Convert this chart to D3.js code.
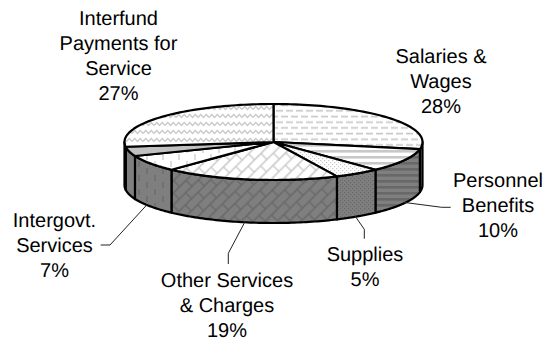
<!DOCTYPE html>
<html><head><meta charset="utf-8">
<script src="https://cdn.jsdelivr.net/npm/d3@7"></script>
<style>html,body{margin:0;background:#fff}svg{display:block}text{font-family:"Liberation Sans",Arial,sans-serif;font-size:20px;fill:#000;text-anchor:middle;text-rendering:geometricPrecision}</style>
</head><body><svg id="c" width="546" height="341"></svg>
<script>
const categories=["Salaries & Wages","Personnel Benefits","Supplies","Other Services & Charges","Intergovt. Services","Unlabeled","Interfund Payments for Service"];
const shares=[28,10,5,19,7,4,27];
const patterns=["dash","hstripe","dots","brick","vdash","solid","wave"];
const labelLines=[["Salaries &","Wages","28%"],["Personnel","Benefits","10%"],["Supplies","5%"],["Other Services","& Charges","19%"],["Intergovt.","Services","7%"],[],["Interfund","Payments for","Service","27%"]];
const labelAnchors=[[441,63],[498,187],[365,261],[227,286.5],[54.5,227],null,[118.5,25]];
const leaders=[null,[[403.3,202.3],[441.7,207.3],[450.7,207.3]],[[355,216],[364.3,229.3],[364.3,238.7]],[[245,221.7],[228.3,253.3],[228.3,264]],[[146.7,205],[110,245],[100.7,245]],null,null];

const svg=d3.select("#c"),defs=svg.append("defs");
const cx=273.5,cy=142,rx=149,ry=38,depth=43;
const x=d3.scaleLinear().domain([-1,1]).range([cx-rx,cx+rx]);
const y=d3.scaleLinear().domain([-1,1]).range([cy-ry,cy+ry]);
const pie=d3.pie().sort(null).value(d=>d)(shares);
const line=d3.line();
const pt=a=>[x(Math.sin(a)),y(-Math.cos(a))];
const arcPts=(a,b)=>d3.range(0,61).map(i=>pt(a+(b-a)*i/60));

function mk(id,w,h,bg,draw,tf){const p=defs.append("pattern").attr("id",id).attr("patternUnits","userSpaceOnUse").attr("width",w).attr("height",h);
 if(tf)p.attr("patternTransform",tf);
 p.append("rect").attr("width",w).attr("height",h).attr("fill",bg);draw(p);}
const s=(p,d,c,sw)=>p.append("path").attr("d",d).attr("fill","none").attr("stroke",c).attr("stroke-width",sw);
function build(pre,bg,fg){
 mk(pre+"dash",20,11.4,bg,p=>{s(p,"M1 2.5H8M11 2.5H18",fg,1.5);s(p,"M-4 8.2H3M6 8.2H13M16 8.2H23",fg,1.5);});
 mk(pre+"hstripe",4,6,bg,p=>{p.append("rect").attr("width",4).attr("height",2.6).attr("fill",fg);});
 mk(pre+"dots",4,4,bg,p=>{[[0,0],[2,2]].forEach(([a,b])=>p.append("rect").attr("x",a).attr("y",b).attr("width",1.2).attr("height",1.2).attr("fill",fg));});
 mk(pre+"brick",18,17,bg,p=>{s(p,"M0 4H18M0 12.5H18M4 4V12.5M13 -4.5V4M13 12.5V21",fg,1.3);},"rotate(-45)");
 mk(pre+"vdash",16,14,bg,p=>{s(p,"M3 0V6",fg,1.2);s(p,"M11 7V13",fg,1.2);});
 mk(pre+"wave",11,8,bg,p=>{s(p,"M0 5.5L2.75 2.5L5.5 5.5L8.25 2.5L11 5.5",fg,1.2);});
}
build("t","#fff","#c8c8c8");
build("f","#7f7f7f","#686868");
const fillTop=p=>p==="solid"?"#c0c0c0":`url(#t${p})`;
const fillSide=p=>p==="solid"?"#7f7f7f":`url(#f${p})`;
const style=sel=>sel.attr("stroke","#000").attr("stroke-width",2.2).attr("stroke-linejoin","round");

const g=svg.append("g");
pie.forEach((d,i)=>{
 const a=Math.max(d.startAngle,Math.PI/2),b=Math.min(d.endAngle,Math.PI*1.5);
 if(b<=a)return;
 const top=arcPts(a,b),bot=arcPts(b,a).map(([px,py])=>[px,py+depth]);
 style(g.append("path").attr("d",line(top.concat(bot))+"Z").attr("fill",fillSide(patterns[i])));
});
pie.forEach((d,i)=>{
 const pts=[[cx,cy]].concat(arcPts(d.startAngle,d.endAngle));
 style(g.append("path").attr("d",line(pts)+"Z").attr("fill",fillTop(patterns[i])));
});
const lg=svg.append("g");
leaders.forEach(l=>{if(l)lg.append("path").attr("d",line(l)).attr("fill","none").attr("stroke","#222").attr("stroke-width",1);});
labelLines.forEach((ls,i)=>{
 if(!ls.length)return;const [ax,ay]=labelAnchors[i];
 ls.forEach((t,j)=>svg.append("text").attr("x",ax).attr("y",ay+j*25).text(t));
});
</script></body></html>
